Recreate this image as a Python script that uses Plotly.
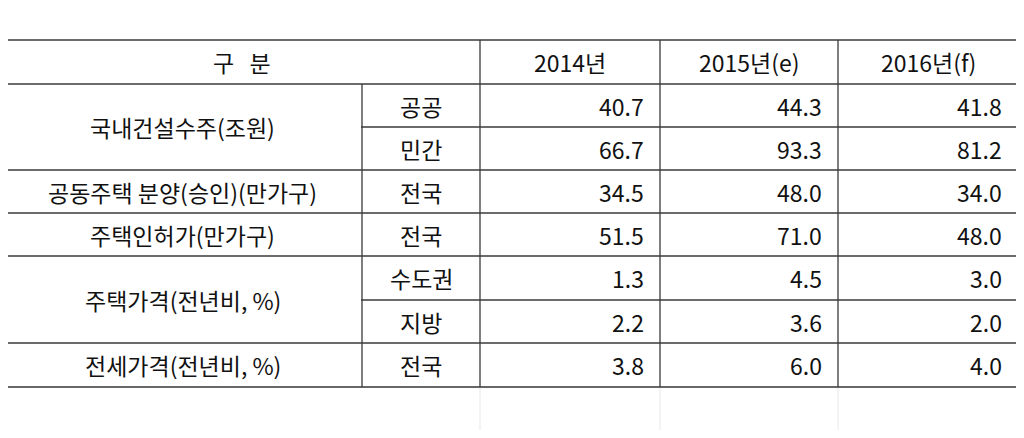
import plotly.graph_objects as go

title = "2016년 건설·부동산시장 전망"
header = ["구   분", "2014년", "2015년(e)", "2016년(f)"]
groups = ["국내건설수주(조원)", "공동주택 분양(승인)(만가구)", "주택인허가(만가구)", "주택가격(전년비, %)", "전세가격(전년비, %)"]
group_rows = [2, 1, 1, 2, 1]
subcats = ["공공", "민간", "전국", "전국", "수도권", "지방", "전국"]
v2014 = [40.7, 66.7, 34.5, 51.5, 1.3, 2.2, 3.8]
v2015 = [44.3, 93.3, 48.0, 71.0, 4.5, 3.6, 6.0]
v2016 = [41.8, 81.2, 34.0, 48.0, 3.0, 2.0, 4.0]
note = "*자료 : 건설산업연구원, e : 추정치, f : 전망치"

W, H = 1008, 422
OFF = 8
col_x = [3, 362, 480, 660, 838, 1018]
row_y = [40, 84, 127, 170, 213, 256, 300, 343, 387]
FONT = "Noto Sans CJK KR, Noto Sans, sans-serif"
LC = "#3a3a3a"
fs = 23

shapes, ann = [], []
def line(x0, y0, x1, y1, c=LC, w=1.3):
    shapes.append(dict(type="line", x0=x0, y0=y0, x1=x1, y1=y1, xref="x", yref="y", line=dict(color=c, width=w)))
def text(t, x, y, anchor="center", size=fs, bold=False):
    ann.append(dict(text=f"<b>{t}</b>" if bold else t, x=x, y=y, xref="x", yref="y", xanchor=anchor, yanchor="middle",
                    showarrow=False, font=dict(family=FONT, size=size, color="#111")))

for yy in [0, 387, 431]:
    line(0, yy, 1030, yy, "#e2e2e2", 1)
for xx in [3, 1018]:
    line(xx, 0, xx, 440, "#e2e2e2", 1)
for xx in col_x[2:5]:
    line(xx, 387, xx, 440, "#e8e8e8", 1)

for yy in row_y:
    line(col_x[0], yy, col_x[-1], yy)
r = 1
for g, n in zip(groups, group_rows):
    for k in range(1, n):
        shapes.append(dict(type="rect", x0=col_x[0] + 1, x1=col_x[1] - 1, y0=row_y[r + k] - 2, y1=row_y[r + k] + 2,
                           xref="x", yref="y", line=dict(width=0), fillcolor="white", layer="above"))
    r += n
for j, xx in enumerate(col_x):
    y0 = row_y[1] if j == 1 else row_y[0]
    line(xx, y0, xx, row_y[-1])

text(title, 6, 20, "left", 23, True)
hy = (row_y[0] + row_y[1]) / 2
text(header[0], (col_x[0] + col_x[2]) / 2, hy)
for j in range(3):
    text(header[j + 1], (col_x[j + 2] + col_x[j + 3]) / 2, hy)

r = 0
for g, n in zip(groups, group_rows):
    text(g, (col_x[0] + col_x[1]) / 2, (row_y[1 + r] + row_y[1 + r + n]) / 2)
    r += n
for i in range(len(subcats)):
    cy = (row_y[1 + i] + row_y[2 + i]) / 2
    text(subcats[i], (col_x[1] + col_x[2]) / 2, cy)
    for j, vals in enumerate([v2014, v2015, v2016]):
        text(f"{vals[i]:.1f}", col_x[j + 3] - 14, cy, "right")
text(note, 6, 410, "left", 21)

fig = go.Figure()
fig.update_layout(width=W, height=H, margin=dict(l=0, r=0, t=0, b=0), plot_bgcolor="white", paper_bgcolor="white",
                  xaxis=dict(range=[OFF, OFF + W], visible=False), yaxis=dict(range=[OFF + H, OFF], visible=False),
                  shapes=shapes, annotations=ann, showlegend=False)
fig.write_html("out.html")
